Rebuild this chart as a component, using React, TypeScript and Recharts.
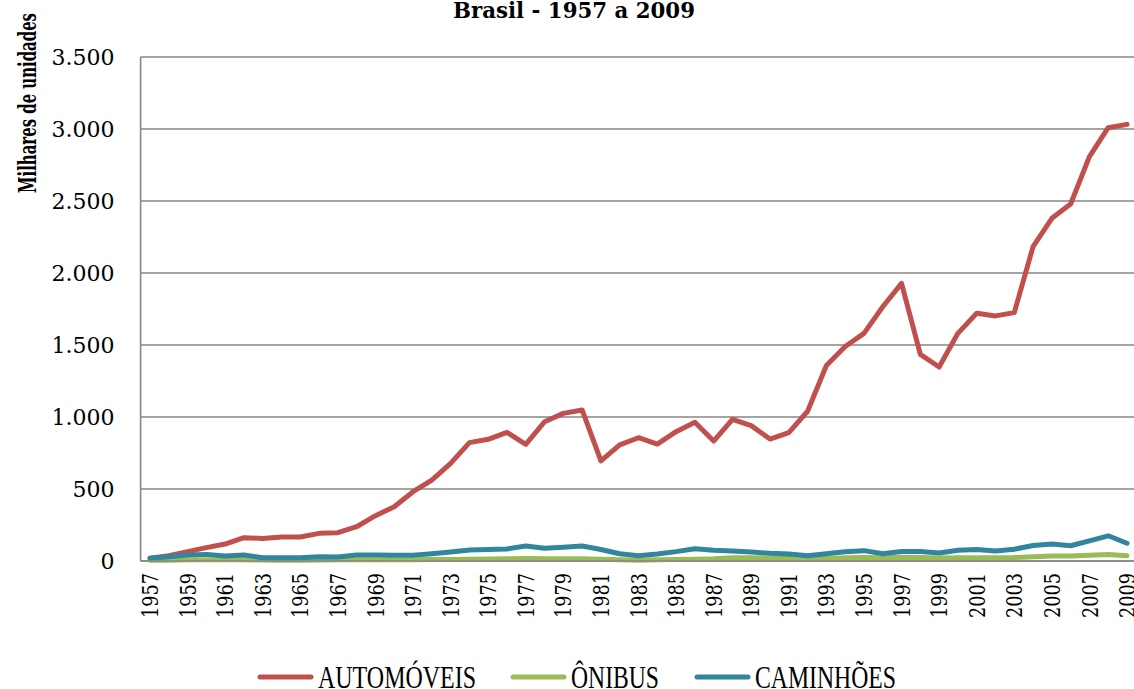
import React from 'react';
import { LineChart, Line, XAxis, YAxis, CartesianGrid } from 'recharts';

const title = 'Brasil - 1957 a 2009';
const yAxisTitle = 'Milhares de unidades';

const years: number[] = [
  1957, 1958, 1959, 1960, 1961, 1962, 1963, 1964, 1965, 1966,
  1967, 1968, 1969, 1970, 1971, 1972, 1973, 1974, 1975, 1976,
  1977, 1978, 1979, 1980, 1981, 1982, 1983, 1984, 1985, 1986,
  1987, 1988, 1989, 1990, 1991, 1992, 1993, 1994, 1995, 1996,
  1997, 1998, 1999, 2000, 2001, 2002, 2003, 2004, 2005, 2006,
  2007, 2008, 2009,
];

const automoveis: number[] = [
  19, 37, 65, 93, 118, 162, 157, 167, 167, 192,
  197, 238, 315, 377, 481, 562, 678, 822, 845, 893,
  810, 967, 1025, 1049, 695, 806, 856, 812, 898, 963,
  833, 984, 940, 847, 891, 1040, 1358, 1490, 1581, 1766,
  1928, 1435, 1347, 1581, 1720, 1702, 1725, 2183, 2380, 2479,
  2808, 3009, 3032,
];

const onibus: number[] = [
  5, 6, 8, 9, 9, 8, 7, 6, 6, 7,
  8, 9, 9, 8, 9, 10, 11, 13, 14, 16,
  17, 16, 16, 15, 12, 8, 6, 8, 10, 13,
  16, 22, 22, 20, 20, 17, 18, 22, 25, 22,
  26, 24, 20, 22, 23, 22, 24, 30, 35, 35,
  40, 45, 37,
];

const caminhoes: number[] = [
  19, 30, 42, 46, 35, 42, 23, 22, 22, 30,
  28, 42, 42, 40, 40, 51, 63, 76, 80, 84,
  104, 88, 95, 104, 80, 50, 37, 49, 65, 85,
  74, 70, 62, 53, 49, 37, 50, 64, 72, 50,
  66, 66, 55, 75, 80, 70, 82, 108, 118, 106,
  140, 175, 123,
];

const yTicks: number[] = [0, 500, 1000, 1500, 2000, 2500, 3000, 3500];

const seriesNames: string[] = ['AUTOMÓVEIS', 'ÔNIBUS', 'CAMINHÕES'];
const seriesKeys: string[] = ['automoveis', 'onibus', 'caminhoes'];
const seriesColors: string[] = ['#C0504D', '#9BBB59', '#31859C'];

const data = years.map((y, i) => ({
  year: String(y),
  automoveis: automoveis[i],
  onibus: onibus[i],
  caminhoes: caminhoes[i],
}));

const fmt = (v: number) => {
  const s = String(Math.round(v));
  return s.replace(/\B(?=(\d{3})+(?!\d))/g, '.');
};

const YTick = (props: any) => {
  const { x, y, payload } = props;
  return (
    <text
      x={x}
      y={y}
      textAnchor="end"
      dy="0.36em"
      fontFamily="'DejaVu Serif', serif"
      fontSize={22}
      fill="#000"
    >
      {fmt(payload.value)}
    </text>
  );
};

const XTick = (props: any) => {
  const { x, y, payload } = props;
  return (
    <text
      x={x}
      y={y}
      transform={`rotate(-90 ${x} ${y})`}
      textAnchor="end"
      dy="0.36em"
      fontFamily="'DejaVu Serif', serif"
      fontSize={22.5}
      fill="#000"
      textLength={45}
      lengthAdjust="spacingAndGlyphs"
    >
      {payload.value}
    </text>
  );
};

// legend layout (style only)
const legendIconX = [258, 511, 695];
const legendIconW = 55;
const legendTextLen = [158, 88, 141];
const legendY = 677;

export default function App() {
  return (
    <div
      style={{
        position: 'fixed',
        left: 0,
        top: 0,
        width: 1134,
        height: 689,
        overflow: 'hidden',
        background: '#fff',
      }}
    >
      <LineChart
        width={1140}
        height={689}
        data={data}
        margin={{ top: 57, right: 3.6, left: 40.6, bottom: 68 }}
      >
        <CartesianGrid vertical={false} stroke="#868686" strokeWidth={1.6} />
        <XAxis
          dataKey="year"
          interval={1}
          height={60}
          padding={{ left: 9.4, right: 9.4 }}
          tickLine={false}
          tickSize={0}
          tickMargin={12}
          axisLine={{ stroke: '#868686', strokeWidth: 1.6 }}
          tick={<XTick />}
        />
        <YAxis
          width={100}
          domain={[0, 3500]}
          ticks={yTicks}
          interval={0}
          tickLine={false}
          tickSize={0}
          tickMargin={26}
          axisLine={{ stroke: '#868686', strokeWidth: 1.6 }}
          tick={<YTick />}
        />
        {seriesKeys.map((k, i) => (
          <Line
            key={k}
            type="linear"
            dataKey={k}
            name={seriesNames[i]}
            stroke={seriesColors[i]}
            strokeWidth={5}
            strokeLinecap="round"
            strokeLinejoin="round"
            dot={false}
            activeDot={false}
            isAnimationActive={false}
          />
        ))}
      </LineChart>
      <svg
        width={1134}
        height={689}
        style={{ position: 'absolute', left: 0, top: 0, pointerEvents: 'none' }}
      >
        <text
          x={574}
          y={18.3}
          textAnchor="middle"
          fontFamily="'DejaVu Serif', serif"
          fontWeight="bold"
          fontSize={21.4}
          textLength={242}
          lengthAdjust="spacingAndGlyphs"
          fill="#000"
        >
          {title}
        </text>
        <text
          x={36}
          y={103}
          transform="rotate(-90 36 103)"
          textAnchor="middle"
          fontFamily="'DejaVu Serif', serif"
          fontWeight="bold"
          fontSize={25}
          textLength={180}
          lengthAdjust="spacingAndGlyphs"
          fill="#000"
        >
          {yAxisTitle}
        </text>
        {seriesNames.map((n, i) => (
          <g key={n}>
            <line
              x1={legendIconX[i] + 2}
              x2={legendIconX[i] + legendIconW - 2}
              y1={legendY}
              y2={legendY}
              stroke={seriesColors[i]}
              strokeWidth={5}
              strokeLinecap="round"
            />
            <text
              x={legendIconX[i] + legendIconW + 5}
              y={688}
              fontFamily="'Liberation Serif', serif"
              fontSize={32}
              textLength={legendTextLen[i]}
              lengthAdjust="spacingAndGlyphs"
              fill="#000"
            >
              {n}
            </text>
          </g>
        ))}
      </svg>
    </div>
  );
}
